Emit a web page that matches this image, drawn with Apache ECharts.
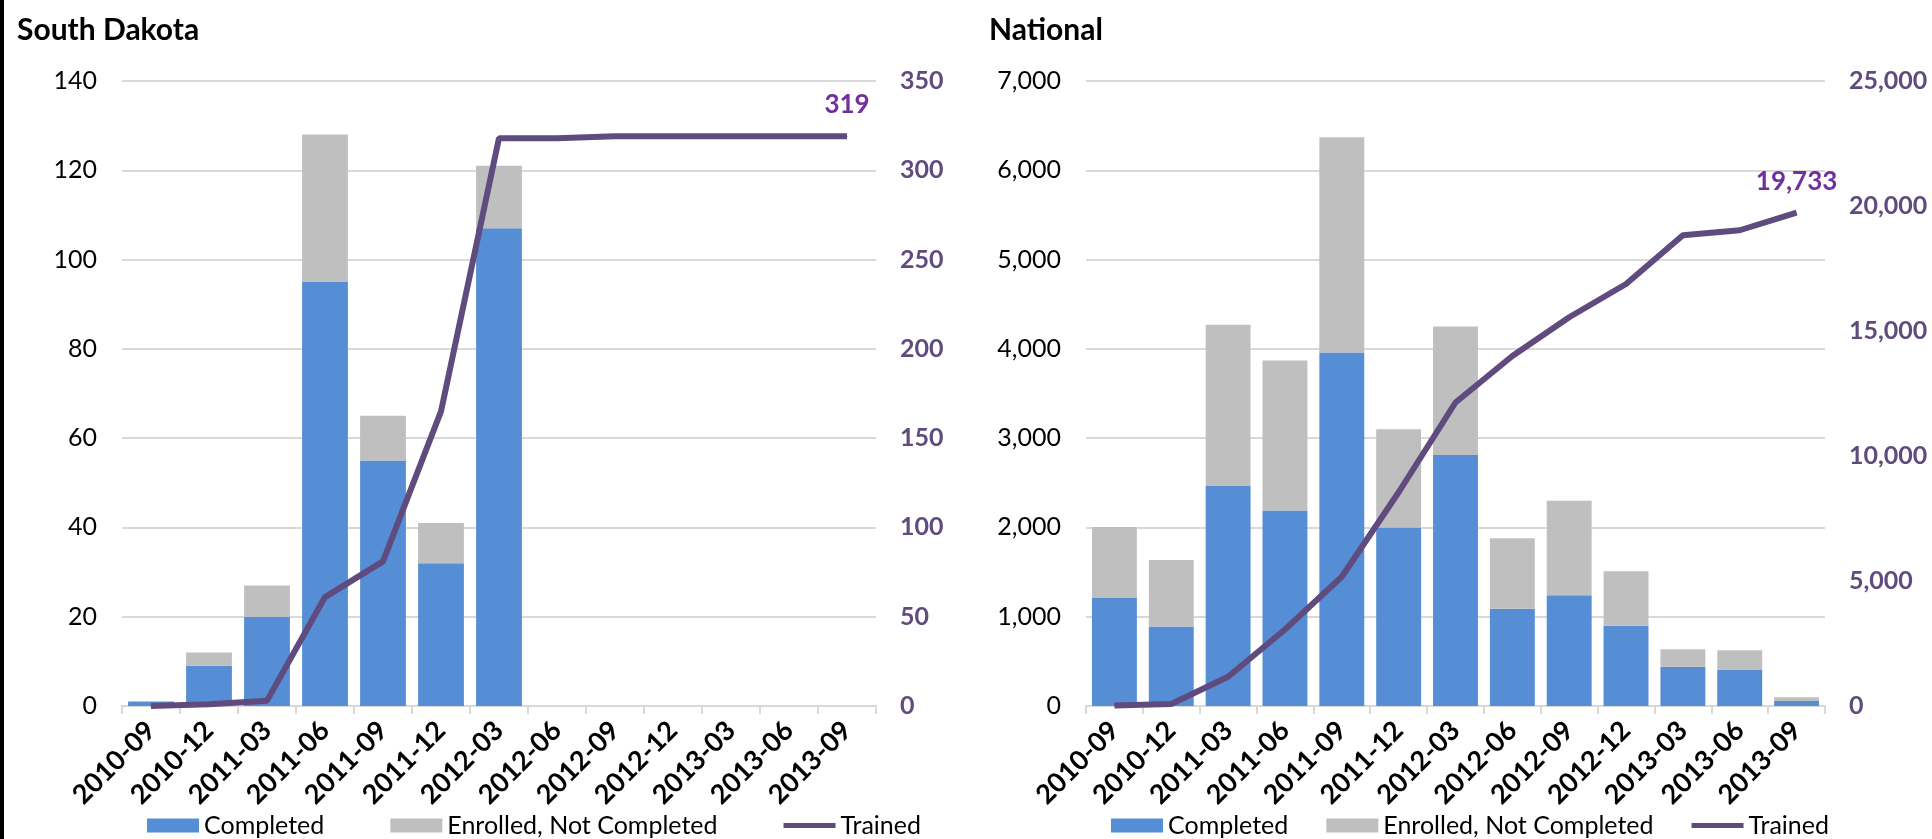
<!DOCTYPE html>
<html>
<head>
<meta charset="utf-8">
<script src="https://cdn.jsdelivr.net/npm/echarts@6/dist/echarts.min.js"></script>
<style>
html,body{margin:0;padding:0;background:#fff;}
#chart{width:1932px;height:839px;position:relative;}
#edge{position:absolute;left:0;top:0;width:4px;height:839px;background:#000;}
</style>
</head>
<body>
<div id="chart"></div>
<div id="edge"></div>
<script>
const categories = ['2010-09','2010-12','2011-03','2011-06','2011-09','2011-12','2012-03','2012-06','2012-09','2012-12','2013-03','2013-06','2013-09'];

const sdCompleted   = [1, 9, 20, 95, 55, 32, 107, 0, 0, 0, 0, 0, 0];
const sdNotCompleted= [0, 3, 7, 33, 10, 9, 14, 0, 0, 0, 0, 0, 0];
const sdTrained     = [0, 1, 3, 61, 81, 165, 318, 318, 319, 319, 319, 319, 319];

const natCompleted   = [1210, 890, 2470, 2190, 3960, 2000, 2810, 1090, 1240, 900, 440, 410, 55];
const natNotCompleted= [795, 745, 1800, 1680, 2410, 1100, 1440, 790, 1060, 610, 195, 215, 42];
const natTrained     = [20, 80, 1170, 3060, 5170, 8550, 12140, 14000, 15550, 16880, 18830, 19030, 19733];

const sdLeftTicks  = {min:0, max:140, interval:20};
const sdRightTicks = {min:0, max:350, interval:50};
const natLeftTicks = {min:0, max:7000, interval:1000};
const natRightTicks= {min:0, max:25000, interval:5000};

const FONT = 'Lato';
const BLUE = '#558ED5', GRAY = '#BFBFBF', PURPLE = '#5F4B7E', LABELPURPLE = '#7030A0', GRID = '#D9D9D9';
const fmt = v => v.toLocaleString('en-US');

function lastLabel(arr){
  return arr.map((v,i)=> i===arr.length-1 ? {value:v, label:{show:true, position:'top', distance:18, formatter:p=>fmt(p.value), color:LABELPURPLE, fontFamily:FONT, fontWeight:'bold', fontSize:26}} : v);
}

function xAxis(gi){
  return {type:'category', gridIndex:gi, data:categories,
    axisLine:{lineStyle:{color:GRID, width:2}},
    axisTick:{show:true, length:8, lineStyle:{color:GRID, width:2}},
    axisLabel:{rotate:45, margin:20, color:'#000', fontFamily:FONT, fontWeight:'bold', fontSize:27, interval:0}};
}
function yLeft(gi, t){
  return {type:'value', gridIndex:gi, position:'left', min:t.min, max:t.max, interval:t.interval,
    axisLine:{show:false}, axisTick:{show:false},
    splitLine:{lineStyle:{color:GRID, width:2}},
    axisLabel:{margin:25, color:'#000', fontFamily:FONT, fontSize:25, formatter:fmt}};
}
function yRight(gi, t){
  return {type:'value', gridIndex:gi, position:'right', min:t.min, max:t.max, interval:t.interval,
    axisLine:{show:false}, axisTick:{show:false}, splitLine:{show:false},
    axisLabel:{margin:24, color:PURPLE, fontFamily:FONT, fontWeight:'bold', fontSize:25, formatter:fmt}};
}
function barSeries(name, data, color, xi, yi){
  return {name, type:'bar', stack:'s'+xi, xAxisIndex:xi, yAxisIndex:yi, data, barCategoryGap:'21%',
    itemStyle:{color}, emphasis:{disabled:true}};
}
function lineSeries(data, xi, yi){
  return {name:'Trained', type:'line', xAxisIndex:xi, yAxisIndex:yi, data:lastLabel(data),
    symbol:'circle', symbolSize:1, showSymbol:true, lineStyle:{color:PURPLE, width:6}, itemStyle:{color:PURPLE}, z:5,
    emphasis:{disabled:true}};
}
function legend(left, gap){
  return {left, top:808, itemWidth:52, itemHeight:14, itemGap:gap,
    data:[{name:'Completed', icon:'rect'},{name:'Enrolled, Not Completed', icon:'rect'},{name:'Trained', icon:'path://M0,0 L52,0 L52,5 L0,5 Z'}],
    textStyle:{fontFamily:FONT, fontSize:25, color:'#000'}};
}

const chart = echarts.init(document.getElementById('chart'), null, {renderer:'canvas'});
chart.setOption({
  animation:false,
  textStyle:{fontFamily:FONT},
  title:[
    {text:'South Dakota', left:12, top:10, textStyle:{fontFamily:FONT, fontWeight:'bold', fontSize:30, color:'#000'}},
    {text:'National', left:984, top:10, textStyle:{fontFamily:FONT, fontWeight:'bold', fontSize:30, color:'#000'}}
  ],
  legend:[legend(142, 66), legend(1106, 38)],
  grid:[
    {left:122, right:1056, top:81, bottom:133, outerBoundsMode:'none', containLabel:false},
    {left:1086, right:107, top:81, bottom:133, outerBoundsMode:'none', containLabel:false}
  ],
  xAxis:[xAxis(0), xAxis(1)],
  yAxis:[yLeft(0, sdLeftTicks), yRight(0, sdRightTicks), yLeft(1, natLeftTicks), yRight(1, natRightTicks)],
  series:[
    barSeries('Completed', sdCompleted, BLUE, 0, 0),
    barSeries('Enrolled, Not Completed', sdNotCompleted, GRAY, 0, 0),
    lineSeries(sdTrained, 0, 1),
    barSeries('Completed', natCompleted, BLUE, 1, 2),
    barSeries('Enrolled, Not Completed', natNotCompleted, GRAY, 1, 2),
    lineSeries(natTrained, 1, 3)
  ]
});
</script>
</body>
</html>
